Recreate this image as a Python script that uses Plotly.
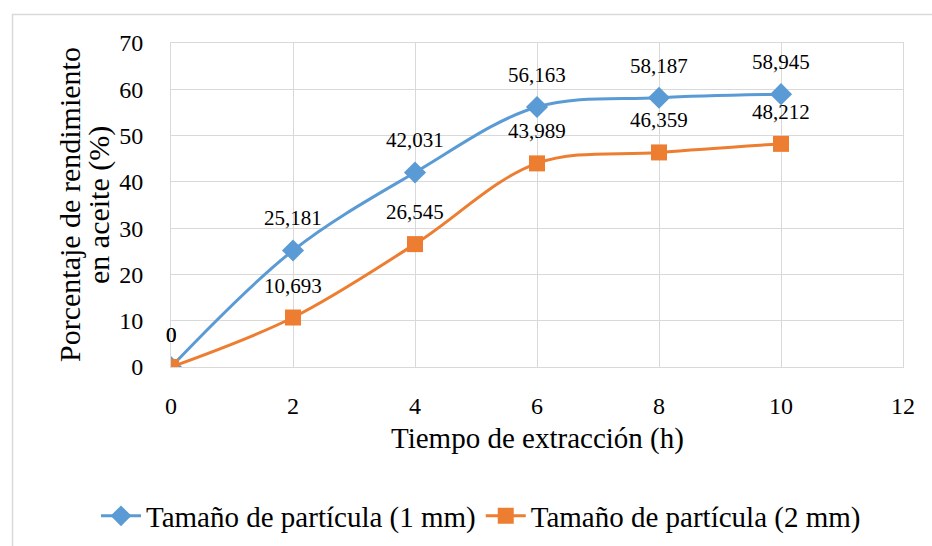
import plotly.graph_objects as go

tiempo = [0, 2, 4, 6, 8, 10]
rend_1mm = [0, 25.181, 42.031, 56.163, 58.187, 58.945]
rend_2mm = [0, 10.693, 26.545, 43.989, 46.359, 48.212]
x_ticks = [0, 2, 4, 6, 8, 10, 12]
y_ticks = [0, 10, 20, 30, 40, 50, 60, 70]
serie_1 = "Tamaño de partícula (1 mm)"
serie_2 = "Tamaño de partícula (2 mm)"
titulo_x = "Tiempo de extracción (h)"
titulo_y = ["Porcentaje de rendimiento", "en aceite (%)"]

FONT = "'Times New Roman', 'Liberation Serif', Tinos, 'DejaVu Serif', serif"
BLUE = "#5B9BD5"
ORANGE = "#ED7D31"
GRID = "#D9D9D9"

def fmt(v):
    s = ("%.3f" % v).rstrip("0").rstrip(".")
    return s.replace(".", ",")

fig = go.Figure()
fig.add_trace(go.Scatter(
    x=tiempo, y=rend_1mm, name=serie_1, mode="lines+markers",
    line=dict(color=BLUE, width=3, shape="spline", smoothing=1),
    marker=dict(symbol="diamond", size=17, color=BLUE),
))
fig.add_trace(go.Scatter(
    x=tiempo, y=rend_2mm, name=serie_2, mode="lines+markers",
    line=dict(color=ORANGE, width=3, shape="spline", smoothing=1),
    marker=dict(symbol="square", size=16, color=ORANGE),
))

annotations = []
for xs, ys in ((tiempo, rend_1mm), (tiempo, rend_2mm)):
    for xv, yv in zip(xs, ys):
        annotations.append(dict(
            x=xv, y=yv, xref="x", yref="y", text=fmt(yv), showarrow=False,
            yshift=32, yanchor="middle", xanchor="center",
            font=dict(family=FONT, size=21, color="#000000"),
        ))

L, R, T, B = 171, 29, 43, 179
W, H = 932, 546
pw = W - L - R
ph = H - T - B

def px_x(p):
    return (p - L) / pw

def px_y(p):
    return (H - B - p) / ph

annotations.append(dict(
    x=px_x(537), y=px_y(438), xref="paper", yref="paper",
    text=titulo_x, showarrow=False,
    xanchor="center", yanchor="middle",
    font=dict(family=FONT, size=29, color="#000000"),
))
for line_text, cx in zip(titulo_y, (69, 99)):
    annotations.append(dict(
        x=px_x(cx), y=px_y(205), xref="paper", yref="paper",
        text=line_text, showarrow=False,
        textangle=-90, xanchor="center", yanchor="middle",
        font=dict(family=FONT, size=30, color="#000000"),
    ))

shapes = [
    dict(type="line", xref="paper", yref="paper",
         x0=px_x(12), x1=px_x(940), y0=px_y(14.5), y1=px_y(14.5),
         line=dict(color=GRID, width=1.5)),
    dict(type="line", xref="paper", yref="paper",
         x0=px_x(12.5), x1=px_x(12.5), y0=px_y(14), y1=px_y(560),
         line=dict(color=GRID, width=1.5)),
]

fig.update_layout(
    width=W, height=H,
    margin=dict(l=L, r=R, t=T, b=B, autoexpand=False),
    paper_bgcolor="white", plot_bgcolor="white",
    font=dict(family=FONT, size=24, color="#000000"),
    showlegend=True,
    legend=dict(orientation="h", xref="paper", yref="paper",
                x=px_x(96), xanchor="left", y=px_y(516),
                yanchor="middle", font=dict(family=FONT, size=29),
                itemwidth=40, tracegroupgap=0, bgcolor="rgba(0,0,0,0)"),
    annotations=annotations,
    shapes=shapes,
    xaxis=dict(range=[0, 12], tickvals=x_ticks, ticktext=[str(v) for v in x_ticks],
               showgrid=True, gridcolor=GRID, gridwidth=1,
               showline=True, linecolor=GRID, mirror=True, zeroline=False,
               ticks="", ticklabelstandoff=17,
               tickfont=dict(family=FONT, size=24)),
    yaxis=dict(range=[0, 70], tickvals=y_ticks,
               showgrid=True, gridcolor=GRID, gridwidth=1,
               showline=True, linecolor=GRID, mirror=True, zeroline=False,
               ticks="", ticklabelstandoff=22,
               tickfont=dict(family=FONT, size=24)),
)

fig.write_html("out.html", config={"displayModeBar": False},
               post_script="document.body.style.margin='0';document.body.style.overflow='hidden';")
